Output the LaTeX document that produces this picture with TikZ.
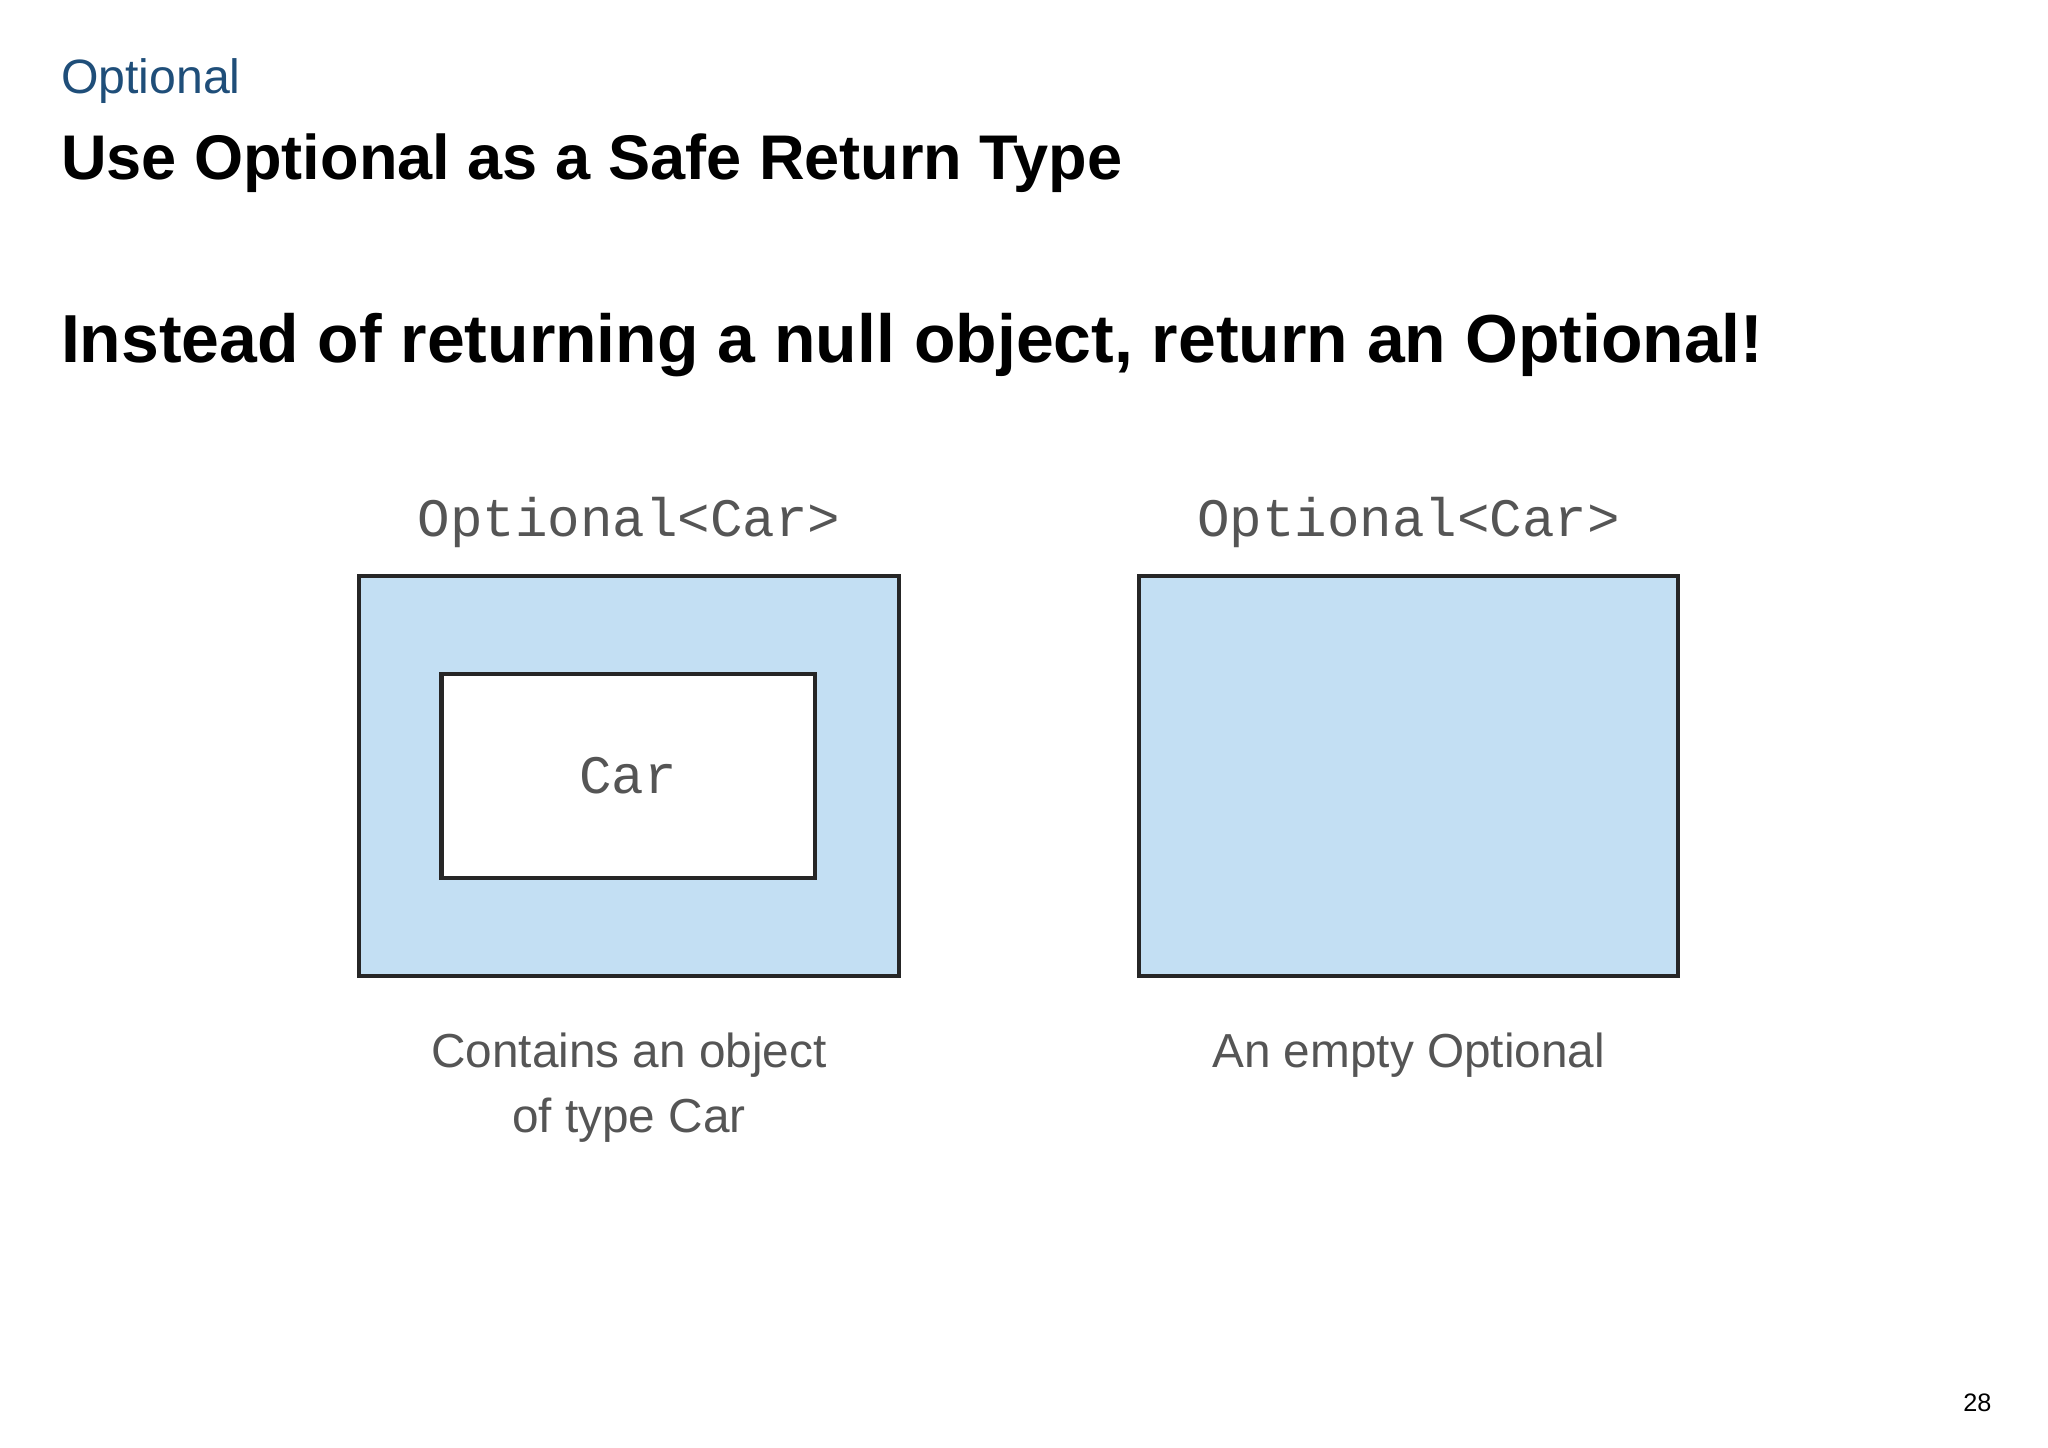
\documentclass[tikz,border=0pt]{standalone}
\usepackage{fontspec}
\setmainfont{Liberation Sans}
\setmonofont{Liberation Mono}
\usetikzlibrary{positioning}
\definecolor{optblue}{HTML}{1F4E79}
\definecolor{boxfill}{HTML}{C3DFF3}
\definecolor{capgray}{HTML}{555555}
\tikzset{%
    heading/.style={%
        anchor=west, inner sep=0pt, font=\bfseries\fontsize{13.75}{16}\selectfont
    },
    wrapper/.style={%
        draw=black!85, line width=0.9pt, fill=boxfill, minimum width=4.13cm, minimum height=3.06cm, inner sep=0pt
    },
    content/.style={%
        draw=black!85, line width=0.9pt, fill=white, minimum width=2.86cm, minimum height=1.56cm, font=\ttfamily\fontsize{11.8}{14}\selectfont, text=capgray
    },
    typelabel/.style={%
        font=\ttfamily\fontsize{11.8}{14}\selectfont, text=capgray
    },
    caption/.style={%
        font=\fontsize{10.4}{14}\selectfont, text=capgray, align=center
    },
}
\begin{document}
\begin{tikzpicture}[x=1cm,y=-1cm]
  \useasboundingbox (0,0) rectangle (15.68,11.08);

  \node[anchor=west, inner sep=0pt, text=optblue, font=\fontsize{10.5}{12}\selectfont] (section) at (0.46,0.62) {Optional};
  \node[heading] (title) at (0.46,1.25) {Use Optional as a Safe Return Type};
  \node[heading, font=\bfseries\fontsize{14.8}{18}\selectfont] (claim) at (0.46,2.64) {Instead of returning a null object, return an Optional!};

  % full optional
  \node[wrapper] (full) at (4.815,5.94) {};
  \node[content] (car) at (4.81,5.94) {Car};
  \node[typelabel, above=0.08cm of full] (full_type) {Optional<Car>};
  \node[caption, below=0.3cm of full] (full_cap) {Contains an object\\of type Car};

  % empty optional
  \node[wrapper] (empty) at (10.785,5.94) {};
  \node[typelabel, above=0.08cm of empty] (empty_type) {Optional<Car>};
  \node[caption, below=0.3cm of empty] (empty_cap) {An empty Optional};

  \node[font=\fontsize{5.5}{7}\selectfont] (page) at (15.14,10.74) {28};
\end{tikzpicture}
\end{document}
